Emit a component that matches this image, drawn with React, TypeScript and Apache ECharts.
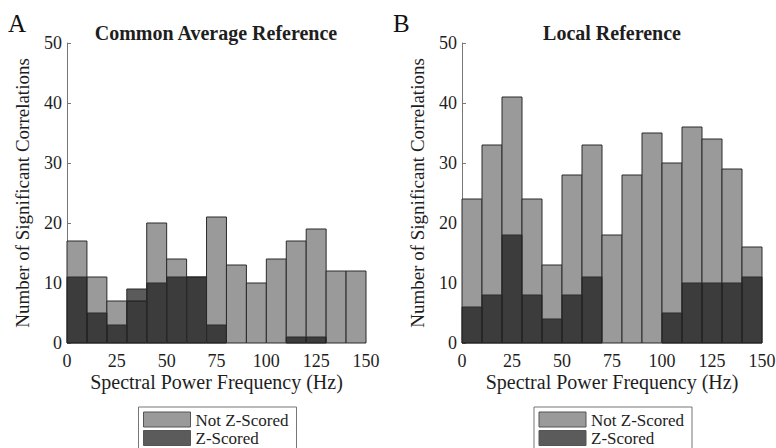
import React, { useEffect, useRef } from "react";
import * as echarts from "echarts";

const binStarts = [0, 10, 20, 30, 40, 50, 60, 70, 80, 90, 100, 110, 120, 130, 140];
const binWidth = 10;
const xTicks = [0, 25, 50, 75, 100, 125, 150];
const yTicks = [0, 10, 20, 30, 40, 50];

const commonNotZ = [17, 11, 7, 7, 20, 14, 11, 21, 13, 10, 14, 17, 19, 12, 12];
const commonZ = [11, 5, 3, 9, 10, 11, 11, 3, 0, 0, 0, 1, 1, 0, 0];
const localNotZ = [24, 33, 41, 24, 13, 28, 33, 18, 28, 35, 30, 36, 34, 29, 16];
const localZ = [6, 8, 18, 8, 4, 8, 11, 0, 0, 0, 5, 10, 10, 10, 11];

const panelTitles = ["Common Average Reference", "Local Reference"];
const panelLetters = ["A", "B"];
const seriesNames = ["Not Z-Scored", "Z-Scored"];
const xAxisName = "Spectral Power Frequency (Hz)";
const yAxisName = "Number of Significant Correlations";

const FONT = "Liberation Serif";
const LIGHT = "#9a9a9a";
const DARK = "rgba(17,17,17,0.69)";
const EDGE = "#2a2a2a";
const TXT = "#1e1e1e";

function toBins(values: number[]) {
  return binStarts.map((s, i) => [s, s + binWidth, values[i]]);
}

function renderBar(params: any, api: any) {
  const x0 = api.value(0);
  const x1 = api.value(1);
  const v = api.value(2);
  if (!v) return null;
  const p0 = api.coord([x0, v]);
  const p1 = api.coord([x1, 0]);
  return {
    type: "rect",
    shape: { x: p0[0], y: p0[1], width: p1[0] - p0[0], height: p1[1] - p0[1] },
    style: api.style(),
  };
}

let measureCtx: CanvasRenderingContext2D | null = null;
function textWidth(text: string, font: string) {
  if (!measureCtx) measureCtx = document.createElement("canvas").getContext("2d");
  if (!measureCtx) return text.length * 9;
  measureCtx.font = font;
  return measureCtx.measureText(text).width;
}

export default function App() {
  const ref = useRef<HTMLDivElement>(null);
  useEffect(() => {
    if (!ref.current) return;
    const chart = echarts.init(ref.current, undefined, { renderer: "svg" });
    const grids = [
      { left: 67, top: 43, width: 299, height: 300 },
      { left: 462, top: 43, width: 300, height: 300 },
    ];
    const centers = [67 + 299 / 2, 462 + 150];
    const data = [
      [commonNotZ, commonZ],
      [localNotZ, localZ],
    ];
    const xAxes = grids.map((_, i) => ({
      type: "value",
      gridIndex: i,
      min: 0,
      max: 150,
      interval: 25,
      axisLine: { show: false },
      axisTick: { show: false },
      splitLine: { show: false },
      axisLabel: { show: false },
    }));
    const yAxes = grids.map((_, i) => ({
      type: "value",
      gridIndex: i,
      min: 0,
      max: 50,
      interval: 10,
      axisLine: { show: true, lineStyle: { color: "#777", width: 1 } },
      axisTick: { show: true, inside: true, length: 4, lineStyle: { color: "#777" } },
      splitLine: { show: false },
      axisLabel: { show: false },
    }));
    const series: any[] = [];
    data.forEach((pair, i) => {
      series.push({
        type: "custom",
        name: seriesNames[0],
        xAxisIndex: i,
        yAxisIndex: i,
        renderItem: renderBar,
        encode: { x: [0, 1], y: 2 },
        itemStyle: { color: LIGHT, borderColor: EDGE, borderWidth: 1 },
        data: toBins(pair[0]),
      });
      series.push({
        type: "custom",
        name: seriesNames[1],
        xAxisIndex: i,
        yAxisIndex: i,
        renderItem: renderBar,
        encode: { x: [0, 1], y: 2 },
        itemStyle: { color: DARK, borderColor: EDGE, borderWidth: 1 },
        data: toBins(pair[1]),
      });
    });
    chart.setOption({
      animation: false,
      backgroundColor: "#fff",
      grid: grids,
      xAxis: xAxes,
      yAxis: yAxes,
      series,
    });

    const graphics: any[] = [];
    // left-aligned text helper: shift by measured width
    const txt = (text: string, font: string, x: number, y: number, anchor: number, extra: any = {}) => {
      const w = textWidth(text, font);
      return {
        type: "text",
        x: x - w * anchor,
        y,
        style: { text, font, fill: TXT, align: "left", verticalAlign: "middle" },
        ...extra,
      };
    };
    centers.forEach((c, i) => {
      const finder = { xAxisIndex: i, yAxisIndex: i };
      const tickFont = `18px ${FONT}`;
      // tick labels positioned through the chart's own scales
      xTicks.forEach((t) => {
        const p = chart.convertToPixel(finder, [t, 0]) as number[];
        graphics.push(txt(String(t), tickFont, p[0], p[1] + 18, 0.5));
      });
      yTicks.forEach((t) => {
        const p = chart.convertToPixel(finder, [0, t]) as number[];
        graphics.push(txt(String(t), tickFont, p[0] - 5, p[1], 1));
      });
      const bottom = chart.convertToPixel(finder, [0, 0]) as number[];
      const top = chart.convertToPixel(finder, [0, 50]) as number[];
      // axis names
      graphics.push(txt(xAxisName, `20px ${FONT}`, c, bottom[1] + 39, 0.5));
      const yFont = `19px ${FONT}`;
      const yw = textWidth(yAxisName, yFont);
      graphics.push({
        type: "text",
        x: bottom[0] - 45,
        y: (bottom[1] + top[1]) / 2 + yw / 2,
        rotation: Math.PI / 2,
        style: { text: yAxisName, font: yFont, fill: TXT, align: "left", verticalAlign: "middle" },
      });
      // title and panel letter
      graphics.push(txt(panelTitles[i], `bold 20px ${FONT}`, c, 33, 0.5));
      graphics.push({
        type: "text",
        left: i === 0 ? 8 : 393,
        top: 11,
        style: { text: panelLetters[i], font: `25px ${FONT}`, fill: "#111" },
      });
      // legend box
      const bx = c - 78;
      graphics.push({
        type: "rect",
        shape: { x: bx, y: 407, width: 158, height: 46 },
        style: { fill: "#fff", stroke: "#777", lineWidth: 1 },
      });
      [LIGHT, DARK].forEach((col, k) => {
        graphics.push({
          type: "rect",
          shape: { x: bx + 5, y: 412 + k * 18.5, width: 47, height: 15 },
          style: { fill: col, stroke: "#555", lineWidth: 1 },
        });
        graphics.push(txt(seriesNames[k], `17px ${FONT}`, bx + 57, 420 + k * 18, 0));
      });
    });
    chart.setOption({ graphic: graphics });
    return () => chart.dispose();
  }, []);
  return (
    <div
      ref={ref}
      style={{ position: "fixed", left: 0, top: 0, width: 776, height: 448, background: "#fff" }}
    />
  );
}
